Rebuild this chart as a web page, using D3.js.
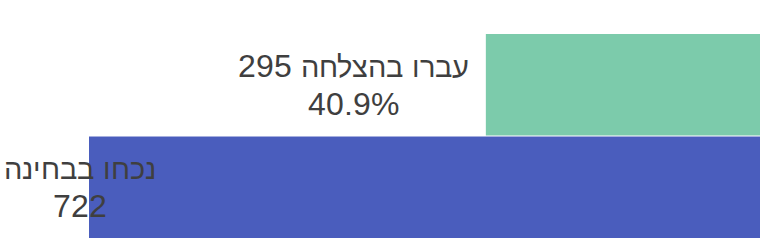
<!DOCTYPE html>
<html>
<head>
<meta charset="utf-8">
<script src="https://cdn.jsdelivr.net/npm/d3@7"></script>
<style>
  @font-face {
    font-family: "LabelFont";
    src: local("Liberation Sans"), local("LiberationSans");
  }
  /* slightly tighter Hebrew glyphs */
  @font-face {
    font-family: "LabelFont";
    src: local("Liberation Sans"), local("LiberationSans");
    unicode-range: U+0590-05FF;
    size-adjust: 91%;
  }
  html, body { margin: 0; padding: 0; background: #fff; }
  svg { display: block; }
  text { font-family: "LabelFont", "Liberation Sans", Arial, sans-serif; fill: #3f3f3f; }
</style>
</head>
<body>
<svg id="chart" width="769" height="245"></svg>
<script>
// Funnel stages, from top to bottom
const stages = ["עברו בהצלחה", "נכחו בבחינה"];
const counts = [295, 722];
const colors = ["#7ccbab", "#4a5dbd"];

const W = 769, H = 245;
const right = 760;
const svg = d3.select("#chart");

const x = d3.scaleLinear()
  .domain([0, d3.max(counts)])
  .range([0, 671]);

const y = d3.scaleBand()
  .domain(stages)
  .range([34, 238])
  .paddingInner(0.01);

const total = counts[counts.length - 1];

// Bars grow leftward from the right edge
svg.selectAll("rect.bar")
  .data(stages)
  .join("rect")
  .attr("class", "bar")
  .attr("x", (d, i) => right - x(counts[i]))
  .attr("y", d => y(d))
  .attr("width", (d, i) => x(counts[i]))
  .attr("height", y.bandwidth())
  .attr("fill", (d, i) => colors[i]);

// Labels sit to the left of each bar, kept inside the canvas
const fontSize = 32;
function drawLabels() {
  svg.selectAll("text.label").remove();
  stages.forEach((s, i) => {
    const lines = i < stages.length - 1
      ? [s + " " + counts[i], d3.format(".1%")(counts[i] / total)]
      : [s, String(counts[i])];
    const cy = y(s) + y.bandwidth() / 2;
    const g = svg.append("text")
      .attr("class", "label")
      .attr("direction", "rtl")
      .attr("text-anchor", "middle")
      .style("font-size", fontSize + "px");
    lines.forEach((t, k) => {
      g.append("tspan")
        .attr("y", cy - 8 + k * 38)
        .text(t);
    });
    const wMax = d3.max(g.selectAll("tspan").nodes(), n => n.getComputedTextLength());
    let cx = right - x(counts[i]) - 17 - wMax / 2;
    if (cx - wMax / 2 < 4) cx = wMax / 2 + 4;
    g.selectAll("tspan").attr("x", cx);
  });
}
drawLabels();
if (document.fonts && document.fonts.ready) document.fonts.ready.then(drawLabels);
</script>
</body>
</html>
